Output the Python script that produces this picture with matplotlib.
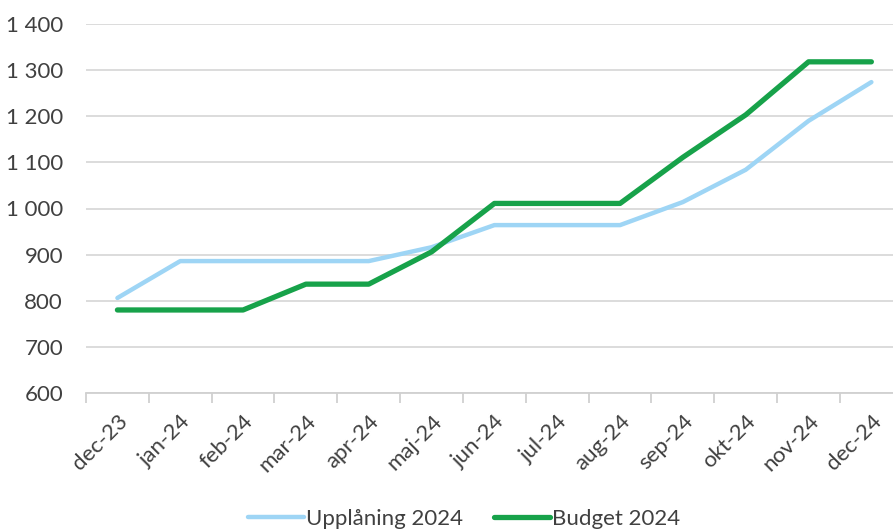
import matplotlib
matplotlib.use("Agg")
import matplotlib.pyplot as plt
from matplotlib.ticker import FuncFormatter, FixedLocator

months = ["dec-23", "jan-24", "feb-24", "mar-24", "apr-24", "maj-24", "jun-24",
          "jul-24", "aug-24", "sep-24", "okt-24", "nov-24", "dec-24"]
upplaning = [806, 886, 886, 886, 886, 916, 964, 964, 964, 1014, 1084, 1190, 1274]
budget = [780, 780, 780, 836, 836, 906, 1011, 1011, 1011, 1111, 1203, 1318, 1318]

plt.rcParams['font.family'] = ['Lato', 'DejaVu Sans']

W, H = 893, 532
fig = plt.figure(figsize=(W / 100, H / 100), dpi=100)
left = 86 / W
bottom = 1 - 393 / H
top = 1 - 24 / H
ax = fig.add_axes([left, bottom, 1 - left, top - bottom])

x = list(range(len(months)))
l1, = ax.plot(x, upplaning, color="#9ED5F5", lw=3.2, solid_capstyle="round",
              solid_joinstyle="round", label="Upplåning 2024", zorder=3)
l2, = ax.plot(x, budget, color="#17A24A", lw=3.8, solid_capstyle="round",
              solid_joinstyle="round", label="Budget 2024", zorder=4)

ax.set_ylim(600, 1400)
ax.set_yticks(range(600, 1401, 100))
ax.yaxis.set_major_formatter(FuncFormatter(lambda v, p: f"{int(v):,}".replace(",", " ")))
ax.set_xlim(-0.5, -0.5 + (W - 86) / 62.83)
ax.set_xticks(x)
ax.set_xticklabels(months, rotation=45, ha="right", va="top", rotation_mode="anchor")
ax.xaxis.set_minor_locator(FixedLocator([i - 0.5 for i in range(len(months) + 1)]))

ax.grid(axis="y", color="#D9D9D9", lw=1.3, zorder=0)
for s in ["top", "right", "left"]:
    ax.spines[s].set_visible(False)
ax.spines["bottom"].set_color("#D0D0D0")
ax.spines["bottom"].set_linewidth(1.3)
ax.tick_params(axis="y", length=0, pad=16.5, labelsize=16, labelcolor="#404040")
ax.tick_params(axis="x", which="major", length=0, pad=13, labelsize=16, labelcolor="#404040")
ax.tick_params(axis="x", which="minor", length=7, width=1.3, color="#D0D0D0")

fig.legend(handles=[l1, l2], loc="center", bbox_to_anchor=(464 / W, 1 - 519 / H),
           ncol=2, frameon=False, fontsize=16, handlelength=2.5, handletextpad=0.1,
           columnspacing=1.4, labelcolor="#404040")

fig.savefig("out.png", dpi=100)
